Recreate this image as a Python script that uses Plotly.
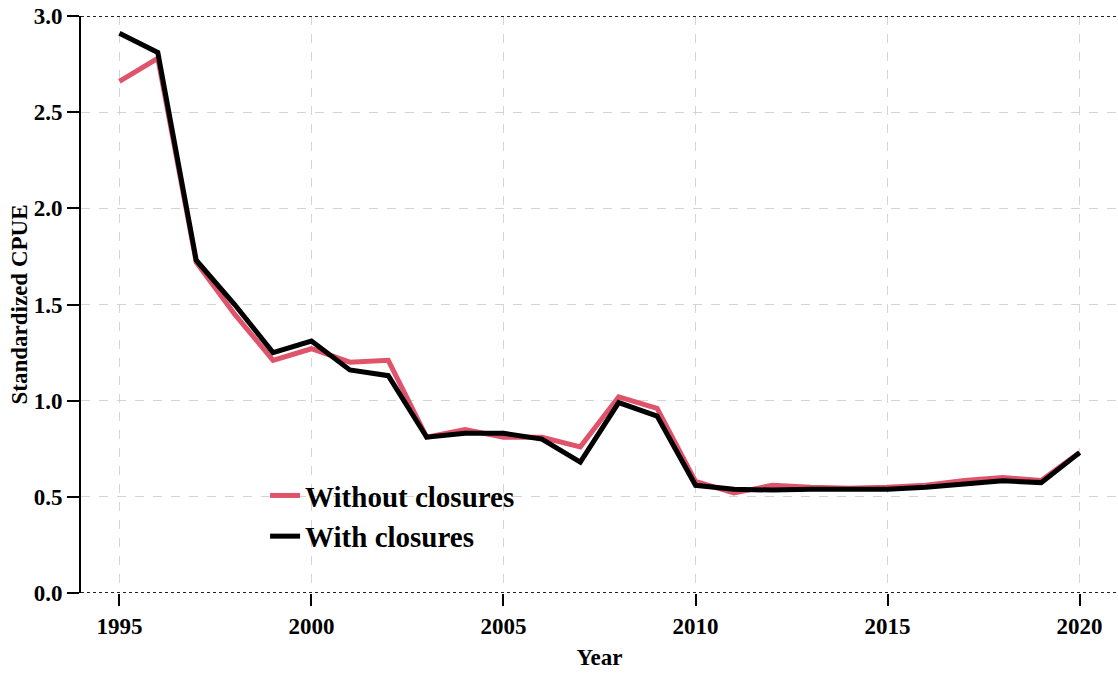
import plotly.graph_objects as go

# Data
years = list(range(1995, 2021))
without_closures = [2.66, 2.78, 1.72, 1.45, 1.21, 1.27, 1.20, 1.21, 0.81, 0.85,
                    0.81, 0.81, 0.76, 1.02, 0.96, 0.58, 0.52, 0.56, 0.55, 0.545,
                    0.55, 0.56, 0.585, 0.60, 0.585, 0.73]
with_closures = [2.91, 2.81, 1.73, 1.50, 1.25, 1.31, 1.16, 1.13, 0.81, 0.83,
                 0.83, 0.80, 0.68, 0.99, 0.92, 0.56, 0.54, 0.535, 0.54, 0.54,
                 0.54, 0.55, 0.567, 0.583, 0.574, 0.73]

x_ticks = [1995, 2000, 2005, 2010, 2015, 2020]
y_ticks = [0.0, 0.5, 1.0, 1.5, 2.0, 2.5, 3.0]

# Colors
colors = {'without': '#DF536B', 'with': '#000000'}
font_family = 'Liberation Serif, Times New Roman, serif'

fig = go.Figure()

fig.add_trace(go.Scatter(x=years, y=without_closures, mode='lines',
                         name='<b>Without closures</b>',
                         line=dict(color=colors['without'], width=5)))
fig.add_trace(go.Scatter(x=years, y=with_closures, mode='lines',
                         name='<b>With closures</b>',
                         line=dict(color=colors['with'], width=5)))

# dotted box lines at top and bottom
for yv in [0, 3]:
    fig.add_shape(type='line', xref='paper', yref='y', x0=0, x1=1, y0=yv, y1=yv,
                  line=dict(color='#222222', width=2, dash='dot'), layer='above')

fig.update_xaxes(range=[1994, 2021], tickvals=x_ticks,
                 ticktext=[f'<b>{v}</b>' for v in x_ticks],
                 ticks='outside', ticklen=12, tickwidth=2, tickcolor='black',
                 showline=False, zeroline=False, automargin=False,
                 ticklabeloverflow='allow',
                 showgrid=True, gridcolor='#d4d4d4', griddash='dash', gridwidth=1,
                 tickfont=dict(family=font_family, size=23, color='black'),
                 title=dict(text='<b>Year</b>', standoff=11,
                            font=dict(family=font_family, size=23, color='black')))
fig.update_yaxes(range=[0, 3], tickvals=y_ticks,
                 ticktext=[f'<b>{v:.1f}</b>' for v in y_ticks],
                 ticks='outside', ticklen=12, tickwidth=2, tickcolor='black',
                 showline=True, linecolor='black', linewidth=2, zeroline=False,
                 automargin=False, ticklabeloverflow='allow',
                 showgrid=True, gridcolor='#d4d4d4', griddash='dash', gridwidth=1,
                 tickfont=dict(family=font_family, size=23, color='black'),
                 title=dict(text='<b>Standardized CPUE</b>', standoff=0,
                            font=dict(family=font_family, size=23, color='black')))

fig.update_layout(
    width=1118, height=673,
    template='plotly_white',
    plot_bgcolor='white', paper_bgcolor='white',
    margin=dict(l=81, r=0, t=16, b=80),
    showlegend=True,
    legend=dict(x=0.1775, y=0.213, xanchor='left', yanchor='top',
                bgcolor='rgba(0,0,0,0)', tracegroupgap=0,
                font=dict(family=font_family, size=29, color='black')),
)

# drop the default page margin so the figure fills the window
fig.write_html("out.html", config={'displayModeBar': False},
               post_script="document.body.style.margin='0px';")
